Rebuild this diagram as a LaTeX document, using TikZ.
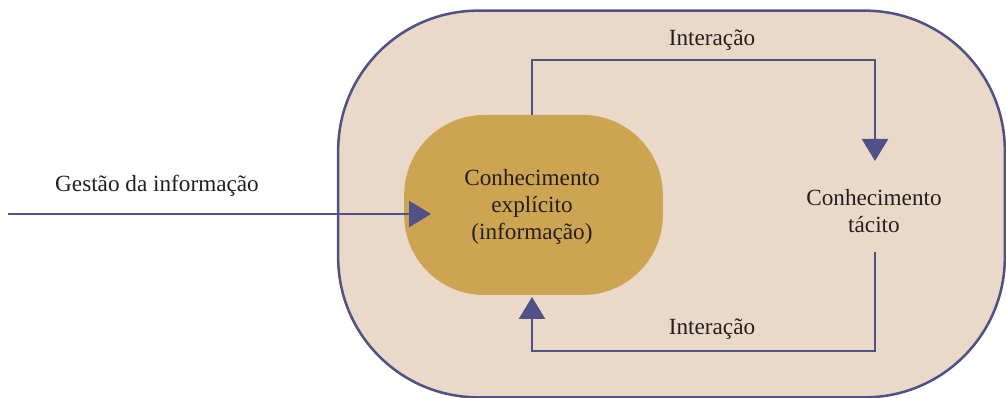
\documentclass[tikz,border=0pt]{standalone}
\usepackage{fontspec}
\setmainfont{Liberation Serif}
\usetikzlibrary{arrows.meta}
\definecolor{outerfill}{HTML}{EAD9C9}
\definecolor{linecol}{HTML}{4F5187}
\definecolor{innerfill}{HTML}{CDA552}
\definecolor{txtcol}{HTML}{231F20}
\tikzset{
  conn/.style={draw=linecol, line width=1.9pt, line join=miter,
    -{Triangle[length=16.5pt,width=19.5pt]}, color=linecol},
  lbl/.style={text=txtcol, font=\fontsize{17.4}{20.5}\selectfont, align=center, inner sep=0pt},
}
\begin{document}
\begin{tikzpicture}[x=0.75pt,y=-0.75pt]
\useasboundingbox (0,0) rectangle (1006,398);
\node[draw=linecol, fill=outerfill, line width=1.9pt, rounded corners=105pt,
  minimum width=500pt, minimum height=290pt, inner sep=0pt] (outer) at (671.5,204) {};
\node[fill=innerfill, rounded corners=60pt, minimum width=194pt, minimum height=135pt,
  inner sep=0pt] (inner) at (533.5,205) {};
\node[lbl] (innertxt) at (532,207) {Conhecimento\\explícito\\(informação)};
\node[lbl] (tacit) at (874,211) {Conhecimento\\tácito};
\node[lbl] (i1) at (712,40) {Interação};
\node[lbl] (i2) at (712,329) {Interação};
\node[lbl] (gest) at (157,186) {Gestão da informação};
\coordinate (tTop) at (875,161);
\coordinate (tBot) at (875,252);
\coordinate (gStart) at (8,214);
\coordinate (gEnd) at (431,214);
\coordinate (iTop) at (532,115);
\coordinate (iBot) at (532,297);
\draw[conn] (iTop) |- (tTop |- 0,60) -- (tTop);
\draw[conn] (tBot) |- (iBot |- 0,351) -- (iBot);
\draw[conn] (gStart) -- (gEnd);
\end{tikzpicture}
\end{document}
